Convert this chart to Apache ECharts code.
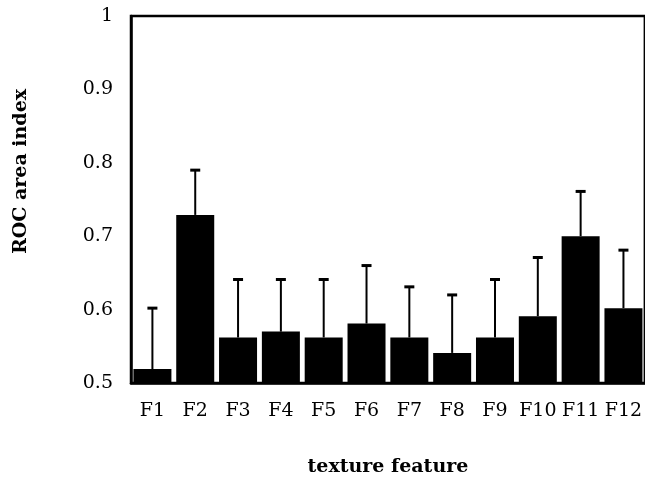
<!DOCTYPE html>
<html>
<head>
<meta charset="utf-8">
<style>
  html, body { margin: 0; padding: 0; background: #fff; }
  #chart { width: 645px; height: 482px; }
</style>
<script src="https://cdn.jsdelivr.net/npm/echarts@6/dist/echarts.min.js"></script>
</head>
<body>
<div id="chart"></div>
<script>
// data
const features = ['F1', 'F2', 'F3', 'F4', 'F5', 'F6', 'F7', 'F8', 'F9', 'F10', 'F11', 'F12']
const rocArea = [0.519, 0.729, 0.562, 0.570, 0.562, 0.581, 0.562, 0.541, 0.562, 0.591, 0.700, 0.602]
const errTop = [0.602, 0.790, 0.641, 0.641, 0.641, 0.660, 0.631, 0.620, 0.641, 0.671, 0.761, 0.681]
const yTicks = [0.5, 0.6, 0.7, 0.8, 0.9, 1]

const font = 'DejaVu Serif'

const chart = echarts.init(document.getElementById('chart'))

chart.setOption({
  animation: false,
  grid: {
    left: 131,
    right: -3,
    top: 16,
    bottom: 97,
    show: true,
    borderColor: '#000',
    borderWidth: 2.5
  },
  xAxis: {
    type: 'category',
    data: features,
    name: 'texture feature',
    nameLocation: 'middle',
    nameGap: 75,
    nameTextStyle: { color: '#000', fontFamily: font, fontSize: 19, fontWeight: 'bold' },
    axisLine: { lineStyle: { color: '#000', width: 2.5 } },
    axisTick: { show: false },
    axisLabel: { color: '#000', fontFamily: font, fontSize: 19, margin: 19, interval: 0, hideOverlap: false }
  },
  yAxis: {
    type: 'value',
    min: yTicks[0],
    max: yTicks[yTicks.length - 1],
    interval: 0.1,
    name: 'ROC area index',
    nameLocation: 'middle',
    nameGap: 100,
    nameTextStyle: {
      color: '#000', fontFamily: font, fontSize: 19, fontWeight: 'bold',
      padding: [0, 0, 0, 56]
    },
    axisLine: { show: true, lineStyle: { color: '#000', width: 2.5 } },
    axisTick: { show: false },
    splitLine: { show: false },
    axisLabel: {
      color: '#000', fontFamily: font, fontSize: 19, margin: 18,
      formatter: v => String(Math.round(v * 10) / 10)
    }
  },
  series: [
    {
      type: 'bar',
      data: rocArea,
      barWidth: 38,
      itemStyle: { color: '#000' },
      z: 2
    },
    {
      // upper error bars
      type: 'custom',
      data: features.map((f, i) => [i, errTop[i], rocArea[i]]),
      z: 3,
      renderItem (params, api) {
        const top = api.coord([api.value(0), api.value(1)])
        const base = api.coord([api.value(0), api.value(2)])
        const half = 5
        return {
          type: 'group',
          children: [
            {
              type: 'line',
              shape: { x1: top[0], y1: top[1], x2: base[0], y2: base[1] },
              style: { stroke: '#000', lineWidth: 2 }
            },
            {
              type: 'line',
              shape: { x1: top[0] - half, y1: top[1], x2: top[0] + half, y2: top[1] },
              style: { stroke: '#000', lineWidth: 3 }
            }
          ]
        }
      }
    }
  ]
})
</script>
</body>
</html>
